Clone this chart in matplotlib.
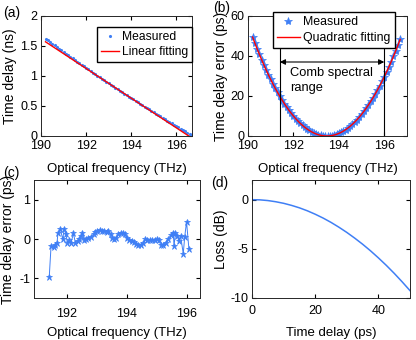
import numpy as np
import matplotlib
matplotlib.use('Agg')
from matplotlib import pyplot as plt

plt.rcParams['font.family'] = ['Liberation Sans', 'DejaVu Sans']
plt.rcParams['font.size'] = 10
plt.rcParams['axes.unicode_minus'] = False
plt.rcParams['xtick.direction'] = 'in'
plt.rcParams['ytick.direction'] = 'in'
plt.rcParams['xtick.top'] = True
plt.rcParams['ytick.right'] = True
plt.rcParams['xtick.labelsize'] = 9
plt.rcParams['ytick.labelsize'] = 9
plt.rcParams['axes.linewidth'] = 0.7
plt.rcParams['xtick.major.size'] = 3
plt.rcParams['ytick.major.size'] = 3
plt.rcParams['xtick.major.pad'] = 3
plt.rcParams['ytick.major.pad'] = 2.5

# (a) + (b): measured at 0.1 THz steps, 190.2 .. 196.7 THz
freq = np.round(np.linspace(190.2, 196.7, 66), 2)
delay_meas = [1.620, 1.592, 1.564, 1.537, 1.509, 1.482, 1.455, 1.428, 1.401, 1.374,
              1.347, 1.320, 1.293, 1.267, 1.240, 1.214, 1.188, 1.162, 1.135, 1.109,
              1.084, 1.058, 1.032, 1.006, 0.981, 0.955, 0.930, 0.905, 0.879, 0.854,
              0.829, 0.804, 0.780, 0.755, 0.730, 0.706, 0.681, 0.657, 0.633, 0.609,
              0.585, 0.561, 0.537, 0.513, 0.489, 0.466, 0.442, 0.419, 0.395, 0.372,
              0.349, 0.326, 0.303, 0.280, 0.257, 0.235, 0.212, 0.189, 0.167, 0.145,
              0.123, 0.100, 0.078, 0.056, 0.035, 0.013]
lin_fit_f = [190.2, 196.7]
lin_fit_d = [1.57, -0.0355]

err_meas = [49.5, 46.5, 43.6, 40.8, 38.1, 35.5, 33.0, 30.6, 28.3, 26.0,
            23.9, 21.8, 19.8, 18.0, 16.2, 14.5, 12.9, 11.4, 10.0, 8.7,
            7.5, 6.3, 5.3, 4.4, 3.5, 2.8, 2.1, 1.5, 1.0, 0.6,
            0.3, 0.1, 0.0, 0.0, 0.1, 0.2, 0.5, 0.9, 1.3, 1.8,
            2.5, 3.2, 4.0, 4.9, 5.9, 7.0, 8.2, 9.5, 10.8, 12.3,
            13.9, 15.5, 17.3, 19.1, 21.0, 23.0, 25.1, 27.3, 29.6, 32.0,
            34.5, 37.1, 39.8, 42.5, 45.4, 48.3]
comb_range = [191.4, 196.0]

# (c) residual after quadratic fitting
res_f = [191.41, 191.47, 191.56, 191.61, 191.67, 191.70, 191.78, 191.86, 191.91, 191.97,
         192.02, 192.08, 192.13, 192.22, 192.28, 192.36, 192.41, 192.47, 192.52, 192.58,
         192.63, 192.72, 192.80, 192.89, 192.94, 193.02, 193.11, 193.19, 193.24, 193.33,
         193.39, 193.47, 193.52, 193.58, 193.63, 193.72, 193.80, 193.89, 193.94, 194.00,
         194.08, 194.17, 194.24, 194.30, 194.39, 194.47, 194.56, 194.61, 194.69, 194.78,
         194.86, 194.94, 195.02, 195.08, 195.13, 195.22, 195.30, 195.39, 195.47, 195.56,
         195.58, 195.63, 195.69, 195.74, 195.80, 195.89, 195.94, 196.00, 196.08]
res_v = [-0.96, -0.18, -0.20, -0.16, -0.09, 0.14, 0.26, -0.01, 0.26, 0.12,
         -0.11, -0.03, -0.11, 0.14, -0.09, -0.05, 0.01, 0.08, 0.16, -0.03,
         0.01, 0.03, 0.06, 0.12, 0.18, 0.20, 0.23, 0.20, 0.20, 0.18,
         0.20, 0.12, 0.03, -0.01, 0.03, 0.12, 0.16, 0.16, 0.12, 0.03,
         -0.03, -0.05, -0.07, -0.12, -0.16, -0.16, -0.11, -0.01, -0.03, -0.03,
         -0.03, -0.03, -0.01, -0.03, -0.14, -0.15, -0.09, 0.01, 0.09, 0.16,
         -0.18, 0.14, 0.08, -0.05, 0.08, -0.37, 0.06, 0.44, -0.26]

# (d) loss vs time delay
td = [0, 2.5, 5, 7.5, 10, 12.5, 15, 17.5, 20, 22.5, 25, 27.5, 30, 32.5, 35,
      37.5, 40, 42.5, 45, 47.5, 50]
loss = [0, -0.02, -0.09, -0.21, -0.37, -0.58, -0.83, -1.13, -1.48, -1.87, -2.31,
        -2.80, -3.33, -3.91, -4.53, -5.20, -5.92, -6.68, -7.49, -8.35, -9.25]

blue = '#3f7ff5'
W, H = 416, 340
fig = plt.figure(figsize=(W / 100, H / 100), dpi=100)


def box(l, t, r, b):
    return [l / W, 1 - b / H, (r - l) / W, (b - t) / H]


xl_font = 9.5

# (a)
ax1 = fig.add_axes(box(41, 16, 192, 136))
ax1.plot(freq, delay_meas, '.', color=blue, ms=2.5, label='Measured')
ax1.plot(lin_fit_f, lin_fit_d, '-', color='red', lw=1, label='Linear fitting')
ax1.set_xlim(190, 196.7)
ax1.set_ylim(0, 2)
ax1.set_xticks([190, 192, 194, 196])
ax1.set_yticks([0, 0.5, 1, 1.5, 2])
ax1.set_yticklabels(['0', '0.5', '1', '1.5', '2'])
ax1.set_xlabel('Optical frequency (THz)', labelpad=8, fontsize=xl_font)
ax1.set_ylabel('Time delay (ns)', labelpad=2)
ax1.legend(loc='upper right', bbox_to_anchor=(1.0, 1 - 11 / 120), fancybox=False,
           edgecolor='black', framealpha=1, borderpad=0.35, handlelength=1.5,
           handletextpad=0.2, labelspacing=0.25, borderaxespad=0, fontsize=8.7)

# (b)
ax2 = fig.add_axes(box(248, 16, 407, 136))
ax2.plot(freq, err_meas, '*', color=blue, ms=6, mew=0.5, label='Measured')
coef = np.polyfit(freq, err_meas, 2)
ax2.plot(freq, np.polyval(coef, freq), '-', color='red', lw=1, label='Quadratic fitting')
for f in comb_range:
    ax2.axvline(f, color='black', lw=0.8)
ax2.annotate('', xy=(comb_range[0], 37), xytext=(comb_range[1], 37),
             arrowprops=dict(arrowstyle='<|-|>', color='black', lw=0.8,
                             mutation_scale=8, shrinkA=0, shrinkB=0))
ax2.text(191.85, 34.5, 'Comb spectral\nrange', ha='left', va='top',
         linespacing=1.35, fontsize=9.3)
ax2.set_xlim(190, 197)
ax2.set_ylim(0, 60)
ax2.set_xticks([190, 192, 194, 196])
ax2.set_yticks([0, 20, 40, 60])
ax2.set_xlabel('Optical frequency (THz)', labelpad=8, fontsize=xl_font)
ax2.set_ylabel('Time delay error (ps)', labelpad=2)
ax2.legend(loc='upper left', bbox_to_anchor=(273 / W, 1 - 12 / H),
           bbox_transform=fig.transFigure, fancybox=False, edgecolor='black',
           framealpha=1, borderpad=0.35, handlelength=1.8, handletextpad=0.3,
           labelspacing=0.3, borderaxespad=0, fontsize=8.9)

# (c)
ax3 = fig.add_axes(box(34, 180, 200, 298))
ax3.plot(res_f, res_v, '-*', color=blue, lw=0.7, ms=4.5, mew=0.5)
ax3.set_xlim(190.9, 196.45)
ax3.set_ylim(-1.5, 1.5)
ax3.set_xticks([192, 194, 196])
ax3.set_yticks([-1, 0, 1])
ax3.tick_params(axis='x', pad=7)
ax3.set_xlabel('Optical frequency (THz)', labelpad=5, fontsize=xl_font)
ax3.set_ylabel('Time delay error (ps)', labelpad=3)

# (d)
ax4 = fig.add_axes(box(252, 180, 410, 298))
ax4.plot(td, loss, '-', color=blue, lw=1.1)
ax4.set_xlim(0, 50)
ax4.set_ylim(-10, 2)
ax4.set_xticks([0, 20, 40])
ax4.set_yticks([-10, -5, 0])
ax4.tick_params(axis='x', pad=5)
ax4.set_xlabel('Time delay (ps)', labelpad=7, fontsize=xl_font)
ax4.set_ylabel('Loss (dB)', labelpad=2)

for ax in (ax1, ax2, ax3, ax4):
    for s in ax.spines.values():
        s.set_color('#262626')

fig.text(3 / W, 1 - 17 / H, '(a)')
fig.text(213 / W, 1 - 12 / H, '(b)')
fig.text(3 / W, 1 - 177 / H, '(c)')
fig.text(211 / W, 1 - 187 / H, '(d)')

fig.savefig('out.png', dpi=100)
